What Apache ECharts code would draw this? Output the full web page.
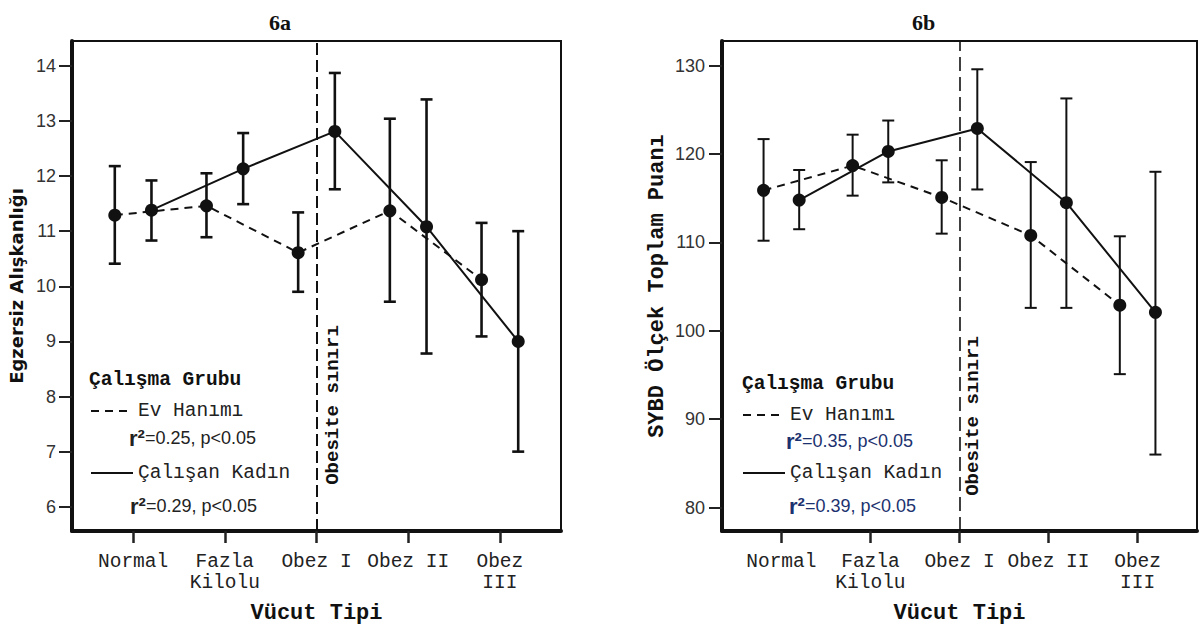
<!DOCTYPE html>
<html lang="tr">
<head>
  <meta charset="UTF-8">
  <title>Vücut Tipi - 6a / 6b</title>
  <script src="https://cdn.jsdelivr.net/npm/echarts@6.0.0/dist/echarts.min.js"></script>
  <style>
    html, body, #chart {
      width: 100%;
      height: 100%;
      margin: 0;
      padding: 0;
      background: #fff;
    }
  </style>
</head>
<body>
  <div id="chart"></div>
  <script>
    // categories on the x axis (both panels)
    const categories = ['Normal', 'Fazla\nKilolu', 'Obez I', 'Obez II', 'Obez\nIII'];
    const groupNames = ['Ev Hanımı', 'Çalışan Kadın'];
    const groupOffset = [-0.2, 0.2];
    const obesityLimit = 2;

    // 6a - Egzersiz Alışkanlığı
    const aEvMean = [11.29, 11.46, 10.61, 11.37, 10.12];
    const aEvLow = [10.41, 10.89, 9.90, 9.72, 9.09];
    const aEvHigh = [12.18, 12.05, 11.34, 13.04, 11.15];
    const aCkMean = [11.38, 12.13, 12.81, 11.08, 9.00];
    const aCkLow = [10.83, 11.49, 11.76, 8.78, 7.00];
    const aCkHigh = [11.92, 12.78, 13.87, 13.39, 11.00];
    const aTicks = [6, 7, 8, 9, 10, 11, 12, 13, 14];
    const aStats = ['0.25', '0.29'];

    // 6b - SYBD Ölçek Toplam Puanı
    const bEvMean = [115.9, 118.7, 115.1, 110.8, 102.9];
    const bEvLow = [110.2, 115.3, 111.0, 102.6, 95.1];
    const bEvHigh = [121.7, 122.2, 119.3, 119.1, 110.7];
    const bCkMean = [114.8, 120.3, 122.9, 114.5, 102.1];
    const bCkLow = [111.5, 116.8, 116.0, 102.6, 86.0];
    const bCkHigh = [118.2, 123.8, 129.6, 126.3, 118.0];
    const bTicks = [80, 90, 100, 110, 120, 130];
    const bStats = ['0.35', '0.39'];

    const ink = '#111';
    const mono = "'Liberation Mono', 'DejaVu Sans Mono', monospace";
    const sans = "'Liberation Sans', Arial, sans-serif";
    const catTicks = categories.map((c, i) => i);

    function meanPoints(mean, g) {
      return mean.map((v, i) => [i + groupOffset[g], v]);
    }
    function barPoints(low, high, g) {
      return low.map((v, i) => [i + groupOffset[g], v, high[i]]);
    }

    function errorBar(capHalf, width) {
      return function (params, api) {
        const x = api.value(0);
        const top = api.coord([x, api.value(2)]);
        const bot = api.coord([x, api.value(1)]);
        const style = { stroke: ink, lineWidth: width };
        return {
          type: 'group',
          children: [
            { type: 'line', shape: { x1: top[0], y1: top[1], x2: bot[0], y2: bot[1] }, style },
            { type: 'line', shape: { x1: top[0] - capHalf, y1: top[1], x2: top[0] + capHalf, y2: top[1] }, style },
            { type: 'line', shape: { x1: bot[0] - capHalf, y1: bot[1], x2: bot[0] + capHalf, y2: bot[1] }, style }
          ]
        };
      };
    }

    function panelSeries(gi, ev, ck, barWidth, limitDash, limitWidth) {
      const groups = [ev, ck];
      const out = [];
      groups.forEach((d, g) => {
        const line = {
          name: groupNames[g],
          type: 'line',
          xAxisIndex: gi,
          yAxisIndex: gi,
          symbol: 'none',
          silent: true,
          z: 2,
          lineStyle: { color: ink, width: 2, type: g === 0 ? [8, 6] : 'solid' },
          data: meanPoints(d.mean, g)
        };
        if (g === 0) {
          line.markLine = {
            silent: true,
            symbol: ['none', 'none'],
            label: { show: false },
            lineStyle: { color: ink, width: limitWidth, type: limitDash },
            data: [{ xAxis: obesityLimit }]
          };
        }
        out.push(line);
        out.push({
          name: groupNames[g] + ' GA',
          type: 'custom',
          xAxisIndex: gi,
          yAxisIndex: gi,
          silent: true,
          z: 3,
          renderItem: errorBar(6, barWidth),
          encode: { x: 0, y: [1, 2] },
          data: barPoints(d.low, d.high, g)
        });
        out.push({
          name: groupNames[g] + ' ort.',
          type: 'scatter',
          xAxisIndex: gi,
          yAxisIndex: gi,
          silent: true,
          z: 4,
          symbolSize: 13,
          itemStyle: { color: ink, opacity: 1 },
          data: meanPoints(d.mean, g)
        });
      });
      return out;
    }

    function xAxisFor(gi) {
      return {
        type: 'value',
        gridIndex: gi,
        min: -2 / 3,
        max: 14 / 3,
        name: 'Vücut Tipi',
        nameLocation: 'middle',
        nameGap: 71,
        nameTextStyle: { fontFamily: mono, fontWeight: 'bold', fontSize: 22, color: ink },
        splitLine: { show: false },
        axisLine: { show: true, onZero: false, lineStyle: { color: ink, width: 4 } },
        axisTick: { show: true, customValues: catTicks, length: 12, lineStyle: { color: '#222', width: 2.5 } },
        axisLabel: {
          customValues: catTicks,
          formatter: v => categories[Math.round(v)],
          margin: 20,
          fontFamily: mono,
          fontSize: 19.5,
          lineHeight: 21,
          color: '#222'
        }
      };
    }

    function yAxisFor(gi, min, max, ticks, name, nameFont, nameGap, labelMargin) {
      return {
        type: 'value',
        gridIndex: gi,
        min: min,
        max: max,
        name: name,
        nameLocation: 'middle',
        nameRotate: 90,
        nameGap: nameGap,
        nameTextStyle: nameFont,
        splitLine: { show: false },
        axisLine: { show: true, onZero: false, lineStyle: { color: ink, width: 4 } },
        axisTick: { show: true, customValues: ticks, length: 13, lineStyle: { color: '#222', width: 2 } },
        axisLabel: {
          customValues: ticks,
          margin: labelMargin,
          fontFamily: sans,
          fontSize: 18,
          color: '#333'
        }
      };
    }

    function legendFor(left, top, gap) {
      return {
        left: left,
        top: top,
        orient: 'vertical',
        data: groupNames,
        itemWidth: 42,
        itemHeight: 14,
        itemGap: gap,
        selectedMode: false,
        itemStyle: { opacity: 0 },
        textStyle: { fontFamily: mono, fontSize: 19.5, color: '#222' }
      };
    }

    function statText(left, y, value, color) {
      return {
        type: 'text',
        left: left,
        top: y - 13,
        silent: true,
        style: {
          text: '{r|r²}{t|=' + value + ', p<0.05}',
          rich: {
            r: { fontFamily: sans, fontWeight: 'bold', fontSize: 22, fill: color, lineHeight: 26 },
            t: { fontFamily: sans, fontSize: 18, fill: color, lineHeight: 26 }
          }
        }
      };
    }

    function plainText(left, y, text, font) {
      return {
        type: 'text',
        left: left,
        top: y,
        silent: true,
        style: { text: text, font: font, fill: ink }
      };
    }

    function limitLabel(cx, cy) {
      return {
        type: 'text',
        x: cx,
        y: cy,
        rotation: Math.PI / 2,
        silent: true,
        style: {
          text: 'Obesite sınırı',
          font: 'bold 19px ' + mono,
          fill: ink,
          align: 'center',
          verticalAlign: 'middle'
        }
      };
    }

    const chart = echarts.init(document.getElementById('chart'), null, { renderer: 'svg' });

    chart.setOption({
      backgroundColor: '#fff',
      animation: false,
      title: [
        { text: '6a', left: 264, top: 6, textStyle: { fontFamily: "'Liberation Serif', 'Times New Roman', serif", fontWeight: 'bold', fontSize: 22, color: ink } },
        { text: '6b', left: 907, top: 6, textStyle: { fontFamily: "'Liberation Serif', 'Times New Roman', serif", fontWeight: 'bold', fontSize: 22, color: ink } }
      ],
      grid: [
        { left: 72, top: 41, width: 489, height: 493, show: true, borderColor: ink, borderWidth: 2, backgroundColor: '#fff' },
        { left: 722, top: 41, width: 475, height: 493, show: true, borderColor: ink, borderWidth: 2, backgroundColor: '#fff' }
      ],
      xAxis: [xAxisFor(0), xAxisFor(1)],
      yAxis: [
        yAxisFor(0, 5.56, 14.45, aTicks, 'Egzersiz Alışkanlığı',
          { fontFamily: "'DejaVu Sans', Verdana, sans-serif", fontWeight: 'bold', fontSize: 18, color: ink }, 47, 16),
        yAxisFor(1, 77.35, 132.8, bTicks, 'SYBD Ölçek Toplam Puanı',
          { fontFamily: mono, fontWeight: 'bold', fontSize: 22, color: ink }, 54, 17)
      ],
      legend: [legendFor(85, 396, 42), legendFor(737, 400, 38)],
      graphic: [
        plainText(89, 370, 'Çalışma Grubu', 'bold 19.5px ' + mono),
        statText(129, 440, aStats[0], '#222'),
        statText(130, 508, aStats[1], '#222'),
        limitLabel(333, 405),
        plainText(742, 374, 'Çalışma Grubu', 'bold 19.5px ' + mono),
        statText(786, 443, bStats[0], '#1c3270'),
        statText(789, 508, bStats[1], '#1c3270'),
        limitLabel(973, 416)
      ],
      series: [
        ...panelSeries(0,
          { mean: aEvMean, low: aEvLow, high: aEvHigh },
          { mean: aCkMean, low: aCkLow, high: aCkHigh }, 2.6, [12, 5], 2),
        ...panelSeries(1,
          { mean: bEvMean, low: bEvLow, high: bEvHigh },
          { mean: bCkMean, low: bCkLow, high: bCkHigh }, 2, [14, 6], 1.6)
      ]
    });
  </script>
</body>
</html>
